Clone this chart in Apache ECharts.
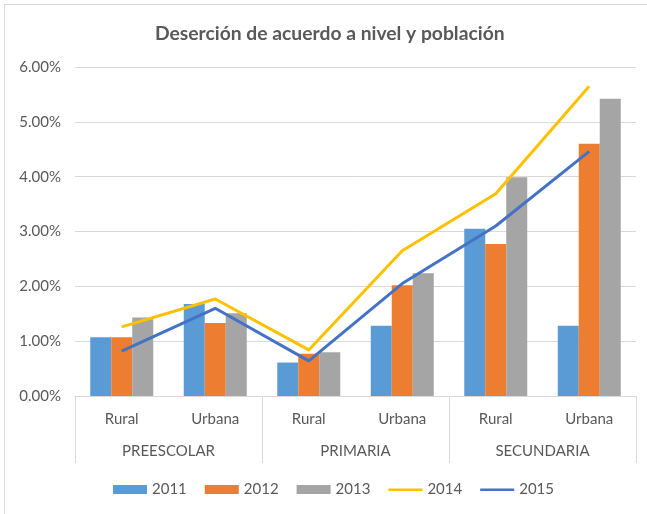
<!DOCTYPE html>
<html>
<head>
<meta charset="utf-8">
<script src="https://cdn.jsdelivr.net/npm/echarts@6/dist/echarts.min.js"></script>
<style>
  html, body { margin: 0; padding: 0; background: #fff; overflow: hidden; }
  #chart { position: absolute; left: 0; top: 0; width: 647px; height: 514px; }
  #frame { position: absolute; left: 4px; top: 4px; width: 700px; height: 530px;
           border: 1px solid #D9D9D9; pointer-events: none; }
</style>
</head>
<body>
<div id="chart"></div>
<div id="frame"></div>
<script>
  const poblacion = ["Rural", "Urbana", "Rural", "Urbana", "Rural", "Urbana"];
  const niveles = ["PREESCOLAR", "PRIMARIA", "SECUNDARIA"];
  const yTicks = [0, 1, 2, 3, 4, 5, 6];

  // porcentajes
  const d2011 = [1.07, 1.68, 0.61, 1.28, 3.05, 1.28];
  const d2012 = [1.07, 1.33, 0.77, 2.02, 2.77, 4.60];
  const d2013 = [1.43, 1.51, 0.80, 2.24, 3.99, 5.42];
  const d2014 = [1.26, 1.77, 0.84, 2.65, 3.69, 5.65];
  const d2015 = [0.82, 1.60, 0.64, 2.05, 3.10, 4.46];

  const font = "Lato";
  const gray = "#595959";
  // thin bar inside the 34x9 legend box, for the line series
  const lineIcon = "path://M0,0 L0,0 Z M0,3.5 L34,3.5 L34,6 L0,6 Z M34,9 L34,9 Z";

  const chart = echarts.init(document.getElementById("chart"));

  const bar = (name, data, color) => ({
    name,
    type: "bar",
    data,
    barWidth: 21,
    barGap: "0%",
    itemStyle: { color },
  });

  const line = (name, data, color) => ({
    name,
    type: "line",
    data,
    symbol: "none",
    z: 5,
    lineStyle: { color, width: 3 },
    itemStyle: { color },
  });

  chart.setOption({
    animation: false,
    textStyle: { fontFamily: font },
    title: {
      text: "Deserción de acuerdo a nivel y población",
      left: 150,
      top: 19,
      textStyle: { fontFamily: font, fontSize: 19.3, fontWeight: "bold", color: gray },
    },
    legend: {
      bottom: 12,
      left: 108,
      itemWidth: 34,
      itemHeight: 9,
      itemGap: 18,
      textStyle: { fontFamily: font, fontSize: 15, color: gray },
      data: [
        { name: "2011", icon: "rect" },
        { name: "2012", icon: "rect" },
        { name: "2013", icon: "rect" },
        { name: "2014", icon: lineIcon },
        { name: "2015", icon: lineIcon },
      ],
    },
    grid: { left: 75, right: 11, top: 67, bottom: 118, containLabel: false },
    xAxis: [
      {
        type: "category",
        data: poblacion,
        axisLine: { show: false },
        axisTick: { show: false },
        axisLabel: { margin: 16, fontSize: 15, color: gray, fontFamily: font },
      },
      {
        type: "category",
        data: niveles,
        position: "bottom",
        axisLine: { show: true, lineStyle: { color: "#D9D9D9" } },
        axisTick: { show: true, interval: 0, length: 67, lineStyle: { color: "#D9D9D9" } },
        axisLabel: { margin: 48, fontSize: 15, color: gray, fontFamily: font },
        splitLine: { show: false },
      },
    ],
    yAxis: {
      type: "value",
      min: yTicks[0],
      max: yTicks[yTicks.length - 1],
      interval: 1,
      axisLine: { show: false },
      axisTick: { show: false },
      axisLabel: {
        margin: 14,
        fontSize: 15,
        color: gray,
        fontFamily: font,
        formatter: (v) => v.toFixed(2) + "%",
      },
      splitLine: { lineStyle: { color: "#D9D9D9" } },
    },
    series: [
      bar("2011", d2011, "#5B9BD5"),
      bar("2012", d2012, "#ED7D31"),
      bar("2013", d2013, "#A5A5A5"),
      line("2014", d2014, "#FFC000"),
      line("2015", d2015, "#4472C4"),
    ],
  });
</script>
</body>
</html>
